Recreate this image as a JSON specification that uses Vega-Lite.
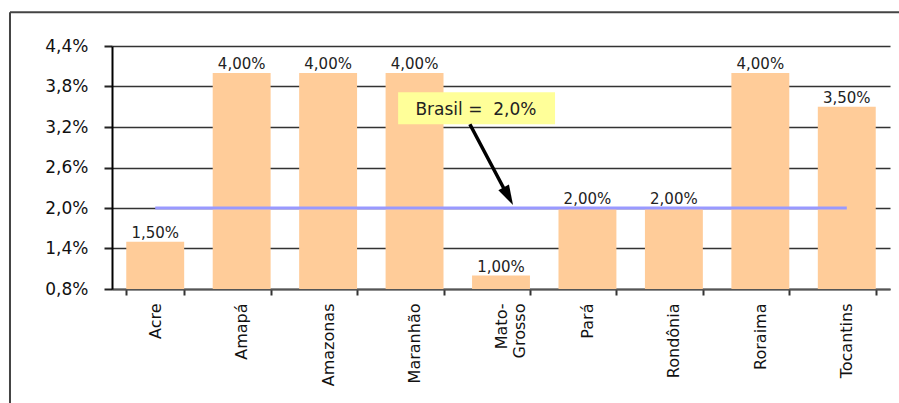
{
  "$schema": "https://vega.github.io/schema/vega-lite/v6.json",
  "width": 778,
  "height": 243,
  "autosize": {"type": "none"},
  "padding": {"left": 112, "top": 46, "right": 9, "bottom": 114},
  "background": "white",
  "config": {
    "locale": {"number": {"decimal": ",", "thousands": ".", "grouping": [3], "currency": ["R$", ""]}},
    "view": {"stroke": null},
    "font": "DejaVu Sans"
  },
  "data": {"values": [
    {"estado": "Acre", "taxa": 0.015},
    {"estado": "Amapá", "taxa": 0.04},
    {"estado": "Amazonas", "taxa": 0.04},
    {"estado": "Maranhão", "taxa": 0.04},
    {"estado": "Mato-Grosso", "taxa": 0.01},
    {"estado": "Pará", "taxa": 0.02},
    {"estado": "Rondônia", "taxa": 0.02},
    {"estado": "Roraima", "taxa": 0.04},
    {"estado": "Tocantins", "taxa": 0.035}
  ]},
  "layer": [
    {
      "encoding": {
        "x": {
          "field": "estado", "type": "nominal", "sort": null,
          "scale": {"paddingInner": 0.33, "paddingOuter": 0.165},
          "axis": {
            "title": null, "labelAngle": -90, "labelFontSize": 16, "labelColor": "#111",
            "labelPadding": 8, "tickSize": 6, "tickWidth": 2, "tickColor": "#333",
            "tickBand": "extent", "domainColor": "#555", "domainWidth": 2,
            "labelExpr": "datum.value == 'Mato-Grosso' ? ['Mato-', 'Grosso'] : datum.label"
          }
        },
        "y": {
          "field": "taxa", "type": "quantitative",
          "scale": {"domain": [0.008, 0.044], "zero": false, "nice": false},
          "axis": {
            "title": null, "format": ".1%", "values": [0.008, 0.014, 0.02, 0.026, 0.032, 0.038, 0.044],
            "labelFontSize": 17, "labelColor": "#111", "labelPadding": 16, "tickSize": 8,
            "tickColor": "#222", "tickWidth": 2, "domainColor": "#000", "domainWidth": 2,
            "gridColor": "#333", "gridWidth": 1.5, "gridOpacity": 1
          }
        }
      },
      "layer": [
        {"mark": {"type": "bar", "color": "#FFCC99"}, "encoding": {"y2": {"datum": 0.008}}},
        {"mark": {"type": "text", "baseline": "bottom", "dy": -1, "fontSize": 15, "color": "#222"},
         "encoding": {"text": {"field": "taxa", "type": "quantitative", "format": ".2%"}}},
        {"mark": {"type": "line", "color": "#9999FF", "strokeWidth": 3}, "encoding": {"y": {"datum": 0.02}}}
      ]
    },
    {
      "data": {"values": [{"nota": "Brasil =\u00a0 2,0%"}]},
      "layer": [
        {"mark": {"type": "rect", "fill": "#FFFF99"},
         "encoding": {
           "x": {"datum": 3.31, "type": "quantitative", "scale": {"domain": [0, 9]}, "axis": null},
           "x2": {"datum": 5.125},
           "y": {"datum": 0.03716, "type": "quantitative", "scale": {"domain": [0.008, 0.044]}},
           "y2": {"datum": 0.0324}
         }},
        {"mark": {"type": "text", "fontSize": 17, "fontWeight": "normal", "color": "#222", "baseline": "middle", "align": "center"},
         "encoding": {
           "x": {"datum": 4.21, "type": "quantitative", "scale": {"domain": [0, 9]}, "axis": null},
           "y": {"datum": 0.0345, "type": "quantitative"},
           "text": {"field": "nota", "type": "nominal"}
         }},
        {"mark": {"type": "rule", "color": "#000", "strokeWidth": 3.5},
         "encoding": {
           "x": {"datum": 4.14, "type": "quantitative", "scale": {"domain": [0, 9]}, "axis": null},
           "x2": {"datum": 4.57},
           "y": {"datum": 0.0324, "type": "quantitative"},
           "y2": {"datum": 0.0220}
         }},
        {"mark": {"type": "point", "shape": "M-0.6,-1L0.6,-1L0,1Z", "size": 400, "angle": -28, "filled": true, "color": "#000", "opacity": 1, "strokeWidth": 0},
         "encoding": {
           "x": {"datum": 4.585, "type": "quantitative", "scale": {"domain": [0, 9]}, "axis": null},
           "y": {"datum": 0.02175, "type": "quantitative"}
         }},
        {"mark": {"type": "rule", "color": "#444", "strokeWidth": 2},
         "encoding": {
           "x": {"datum": -1.18, "type": "quantitative", "scale": {"domain": [0, 9]}, "axis": null},
           "x2": {"datum": 9.5},
           "y": {"datum": 0.049, "type": "quantitative"}
         }},
        {"mark": {"type": "rule", "color": "#444", "strokeWidth": 2},
         "encoding": {
           "x": {"datum": -1.18, "type": "quantitative", "scale": {"domain": [0, 9]}, "axis": null},
           "y": {"datum": 0.049, "type": "quantitative"},
           "y2": {"datum": -0.01}
         }}
      ]
    }
  ],
  "resolve": {"scale": {"x": "independent"}}
}
